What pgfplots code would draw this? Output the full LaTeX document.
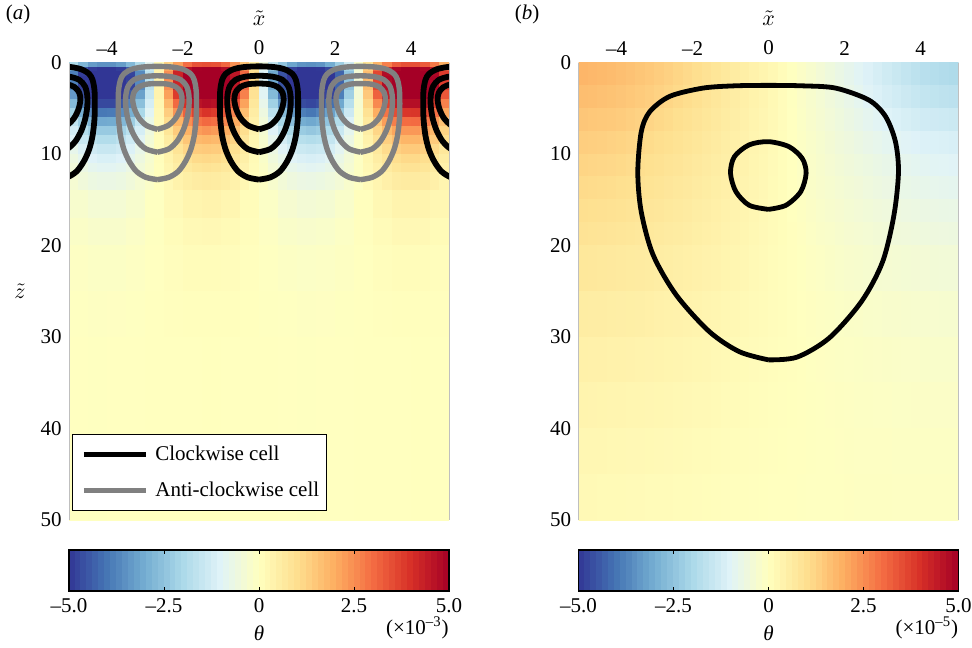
\documentclass[border=0pt]{standalone}
\usepackage{fontspec}
\setmainfont{Liberation Serif}
\usepackage{pgfplots}
\usepackage{pgfplotstable}
\pgfplotsset{compat=1.18}

\definecolor{cgray}{RGB}{128,128,128}

% closed stream-function contours of one cell, x relative to the cell centre
\pgfplotstableread{
x z
0 12.8
0.3 12.55
0.55 11.9
0.74 10.8
0.88 9.5
0.97 8.0
1.02 6.2
1.03 4.5
1.02 3.0
0.97 1.9
0.88 1.25
0.68 0.75
0.4 0.5
0 0.42
-0.4 0.5
-0.68 0.75
-0.88 1.25
-0.97 1.9
-1.02 3.0
-1.03 4.5
-1.02 6.2
-0.97 8.0
-0.88 9.5
-0.74 10.8
-0.55 11.9
-0.3 12.55
0 12.8
}\cellouter
\pgfplotstableread{
x z
0 9.8
0.3 9.45
0.52 8.6
0.68 7.4
0.78 6.1
0.83 4.8
0.83 3.6
0.77 2.6
0.62 1.9
0.36 1.55
0 1.45
-0.36 1.55
-0.62 1.9
-0.77 2.6
-0.83 3.6
-0.83 4.8
-0.78 6.1
-0.68 7.4
-0.52 8.6
-0.3 9.45
0 9.8
}\cellmid
\pgfplotstableread{
x z
0 7.3
0.28 6.9
0.48 6.1
0.6 5.1
0.65 4.1
0.62 3.3
0.5 2.7
0.3 2.38
0 2.3
-0.3 2.38
-0.5 2.7
-0.62 3.3
-0.65 4.1
-0.6 5.1
-0.48 6.1
-0.28 6.9
0 7.3
}\cellin

% panel (b) contours
\pgfplotstableread{
x z
0 32.5
0.75 32.2
1.6 30.1
2.45 26.1
3.0 21.8
3.3 16.7
3.42 12.0
3.34 8.65
3.08 5.9
2.64 4.1
1.77 2.8
0.9 2.55
0 2.5
-0.9 2.55
-1.73 2.8
-2.6 3.7
-3.13 5.4
-3.35 7.6
-3.44 12.0
-3.35 16.3
-3.04 21.0
-2.43 25.4
-1.56 29.4
-0.77 31.6
0 32.5
}\bouter
\pgfplotstableread{
x z
0 16.05
0.46 15.6
0.85 14.1
0.99 12.1
0.89 10.5
0.54 9.2
0 8.65
-0.51 9.0
-0.9 10.3
-1.0 12.1
-0.86 14.1
-0.51 15.6
0 16.05
}\binner

\pgfplotsset{
  colormap={rdylbu}{rgb255=(49,54,149) rgb255=(69,117,180) rgb255=(116,173,209)
    rgb255=(171,217,233) rgb255=(224,243,248) rgb255=(255,255,191) rgb255=(254,224,144)
    rgb255=(253,174,97) rgb255=(244,109,67) rgb255=(215,48,39) rgb255=(165,0,38)},
  field/.style={
    scale only axis, width=190pt, height=228.75pt,
    xmin=-5, xmax=5, ymin=0, ymax=50, y dir=reverse,
    xtick={-4,-2,0,2,4}, xticklabels={–4,–2,0,2,4},
    ytick={0,10,20,30,40,50}, yticklabels={0,10,20,30,40,50},
    xticklabel pos=upper,
    tick style={draw=none},
    separate axis lines,
    x axis line style={draw=none},
    y axis line style={black!25, line width=0.5pt},
    axis on top,
    point meta min=-5, point meta max=5,
    xlabel={$\tilde{x}$},
    xlabel style={at={(axis description cs:0.5,1.097)}, anchor=center},
  },
  patch/.style={surf, shader=faceted, faceted color=mapped color, line width=0.4pt,
    point meta=explicit, forget plot},
  cbar/.style={
    scale only axis, width=190pt, height=20.5pt,
    xmin=-5, xmax=5, ymin=0, ymax=1, ytick=\empty,
    point meta min=-5, point meta max=5,
    xtick={-5,-2.5,0,2.5,5}, xticklabels={–5.0,–2.5,0,2.5,5.0},
    xtick pos=both, xticklabel pos=lower,
    tick align=inside, major tick length=2pt,
    tick style={black, line width=0.5pt},
    axis line style={black, line width=0.7pt},
    axis on top,
    xlabel={\textit{θ}},
    xlabel style={at={(axis description cs:0.5,-1.02)}, anchor=center},
    extra description/.code={
      \node[anchor=east, inner sep=0pt] at (1,-0.9) {(×10\textsuperscript{#1})};},
  },
}

\begin{document}
\fontsize{10.5}{12.6}\selectfont
\begin{tikzpicture}
\useasboundingbox (0,0) rectangle (486pt,323.5pt);

% ---------------- panel (a) ----------------
\begin{axis}[field,
  at={(34.5pt,63.5pt)}, anchor=south west,
  ylabel={$\tilde{z}$},
  ylabel style={at={(axis description cs:-0.129,0.5)}, anchor=center, rotate=-90},
  extra description/.code={\node at (-0.134,1.104) {(\textit{a})};},
  legend style={at={(0.008,0.188)}, anchor=north west, draw=black, line width=0.5pt,
    fill=white, inner xsep=1.5pt, inner ysep=3.75pt, row sep=5pt, column sep=1.5pt,
    nodes={inner sep=2pt}},
  legend cell align=left,
  legend image code/.code={\path (0pt,0pt); \draw[#1] (3pt,0pt) -- (34pt,0pt);},
]
% theta near the surface
\addplot[patch, mesh/cols=41] coordinates {
(-5,0)[-0.8] (-4.75,0)[-1.3] (-4.5,0)[-1.7] (-4.25,0)[-1.9] (-4,0)[-2.0] (-3.75,0)[-1.9] (-3.5,0)[-1.7] (-3.25,0)[-1.3] (-3,0)[-0.7] (-2.75,0)[-0.2] (-2.5,0)[0.4] (-2.25,0)[1.0] (-2,0)[1.4] (-1.75,0)[1.8] (-1.5,0)[2.0] (-1.25,0)[2.0] (-1,0)[1.8] (-0.75,0)[1.5] (-0.5,0)[1.1] (-0.25,0)[0.6] (0,0)[0] (0.25,0)[-0.6] (0.5,0)[-1.1] (0.75,0)[-1.5] (1,0)[-1.8] (1.25,0)[-2.0] (1.5,0)[-2.0] (1.75,0)[-1.8] (2,0)[-1.4] (2.25,0)[-1.0] (2.5,0)[-0.4] (2.75,0)[0.2] (3,0)[0.7] (3.25,0)[1.3] (3.5,0)[1.7] (3.75,0)[1.9] (4,0)[2.0] (4.25,0)[1.9] (4.5,0)[1.7] (4.75,0)[1.3] (5,0)[0.8]

(-5,0.5)[-2.2] (-4.75,0.5)[-3.6] (-4.5,0.5)[-4.6] (-4.25,0.5)[-5] (-4,0.5)[-5] (-3.75,0.5)[-5] (-3.5,0.5)[-4.5] (-3.25,0.5)[-3.4] (-3,0.5)[-2.1] (-2.75,0.5)[-0.5] (-2.5,0.5)[1.1] (-2.25,0.5)[2.6] (-2,0.5)[3.9] (-1.75,0.5)[4.9] (-1.5,0.5)[5] (-1.25,0.5)[5] (-1,0.5)[5] (-0.75,0.5)[4.2] (-0.5,0.5)[3.0] (-0.25,0.5)[1.6] (0,0.5)[0] (0.25,0.5)[-1.6] (0.5,0.5)[-3.0] (0.75,0.5)[-4.2] (1,0.5)[-5] (1.25,0.5)[-5] (1.5,0.5)[-5] (1.75,0.5)[-4.9] (2,0.5)[-3.9] (2.25,0.5)[-2.6] (2.5,0.5)[-1.1] (2.75,0.5)[0.5] (3,0.5)[2.1] (3.25,0.5)[3.4] (3.5,0.5)[4.5] (3.75,0.5)[5] (4,0.5)[5] (4.25,0.5)[5] (4.5,0.5)[4.6] (4.75,0.5)[3.6] (5,0.5)[2.2]

(-5,1)[-2.8] (-4.75,1)[-4.5] (-4.5,1)[-5] (-4.25,1)[-5] (-4,1)[-5] (-3.75,1)[-5] (-3.5,1)[-5] (-3.25,1)[-4.4] (-3,1)[-2.6] (-2.75,1)[-0.6] (-2.5,1)[1.4] (-2.25,1)[3.4] (-2,1)[5] (-1.75,1)[5] (-1.5,1)[5] (-1.25,1)[5] (-1,1)[5] (-0.75,1)[5] (-0.5,1)[3.9] (-0.25,1)[2.0] (0,1)[0] (0.25,1)[-2.0] (0.5,1)[-3.9] (0.75,1)[-5] (1,1)[-5] (1.25,1)[-5] (1.5,1)[-5] (1.75,1)[-5] (2,1)[-5] (2.25,1)[-3.4] (2.5,1)[-1.4] (2.75,1)[0.6] (3,1)[2.6] (3.25,1)[4.4] (3.5,1)[5] (3.75,1)[5] (4,1)[5] (4.25,1)[5] (4.5,1)[5] (4.75,1)[4.5] (5,1)[2.8]

(-5,1.5)[-3.0] (-4.75,1.5)[-4.9] (-4.5,1.5)[-5] (-4.25,1.5)[-5] (-4,1.5)[-5] (-3.75,1.5)[-5] (-3.5,1.5)[-5] (-3.25,1.5)[-4.7] (-3,1.5)[-2.8] (-2.75,1.5)[-0.7] (-2.5,1.5)[1.5] (-2.25,1.5)[3.6] (-2,1.5)[5] (-1.75,1.5)[5] (-1.5,1.5)[5] (-1.25,1.5)[5] (-1,1.5)[5] (-0.75,1.5)[5] (-0.5,1.5)[4.2] (-0.25,1.5)[2.2] (0,1.5)[0] (0.25,1.5)[-2.2] (0.5,1.5)[-4.2] (0.75,1.5)[-5] (1,1.5)[-5] (1.25,1.5)[-5] (1.5,1.5)[-5] (1.75,1.5)[-5] (2,1.5)[-5] (2.25,1.5)[-3.6] (2.5,1.5)[-1.5] (2.75,1.5)[0.7] (3,1.5)[2.8] (3.25,1.5)[4.7] (3.5,1.5)[5] (3.75,1.5)[5] (4,1.5)[5] (4.25,1.5)[5] (4.5,1.5)[5] (4.75,1.5)[4.9] (5,1.5)[3.0]

(-5,2)[-3.0] (-4.75,2)[-4.9] (-4.5,2)[-5] (-4.25,2)[-5] (-4,2)[-5] (-3.75,2)[-5] (-3.5,2)[-5] (-3.25,2)[-4.7] (-3,2)[-2.8] (-2.75,2)[-0.7] (-2.5,2)[1.5] (-2.25,2)[3.6] (-2,2)[5] (-1.75,2)[5] (-1.5,2)[5] (-1.25,2)[5] (-1,2)[5] (-0.75,2)[5] (-0.5,2)[4.2] (-0.25,2)[2.2] (0,2)[0] (0.25,2)[-2.2] (0.5,2)[-4.2] (0.75,2)[-5] (1,2)[-5] (1.25,2)[-5] (1.5,2)[-5] (1.75,2)[-5] (2,2)[-5] (2.25,2)[-3.6] (2.5,2)[-1.5] (2.75,2)[0.7] (3,2)[2.8] (3.25,2)[4.7] (3.5,2)[5] (3.75,2)[5] (4,2)[5] (4.25,2)[5] (4.5,2)[5] (4.75,2)[4.9] (5,2)[3.0]

(-5,3)[-2.8] (-4.75,3)[-4.5] (-4.5,3)[-5] (-4.25,3)[-5] (-4,3)[-5] (-3.75,3)[-5] (-3.5,3)[-5] (-3.25,3)[-4.4] (-3,3)[-2.6] (-2.75,3)[-0.6] (-2.5,3)[1.4] (-2.25,3)[3.4] (-2,3)[5] (-1.75,3)[5] (-1.5,3)[5] (-1.25,3)[5] (-1,3)[5] (-0.75,3)[5] (-0.5,3)[3.9] (-0.25,3)[2.0] (0,3)[0] (0.25,3)[-2.0] (0.5,3)[-3.9] (0.75,3)[-5] (1,3)[-5] (1.25,3)[-5] (1.5,3)[-5] (1.75,3)[-5] (2,3)[-5] (2.25,3)[-3.4] (2.5,3)[-1.4] (2.75,3)[0.6] (3,3)[2.6] (3.25,3)[4.4] (3.5,3)[5] (3.75,3)[5] (4,3)[5] (4.25,3)[5] (4.5,3)[5] (4.75,3)[4.5] (5,3)[2.8]

(-5,4)[-2.3] (-4.75,4)[-3.8] (-4.5,4)[-4.9] (-4.25,4)[-5] (-4,4)[-5] (-3.75,4)[-5] (-3.5,4)[-4.8] (-3.25,4)[-3.6] (-3,4)[-2.2] (-2.75,4)[-0.5] (-2.5,4)[1.2] (-2.25,4)[2.8] (-2,4)[4.1] (-1.75,4)[5] (-1.5,4)[5] (-1.25,4)[5] (-1,4)[5] (-0.75,4)[4.5] (-0.5,4)[3.2] (-0.25,4)[1.7] (0,4)[0] (0.25,4)[-1.7] (0.5,4)[-3.2] (0.75,4)[-4.5] (1,4)[-5] (1.25,4)[-5] (1.5,4)[-5] (1.75,4)[-5] (2,4)[-4.1] (2.25,4)[-2.8] (2.5,4)[-1.2] (2.75,4)[0.5] (3,4)[2.2] (3.25,4)[3.6] (3.5,4)[4.8] (3.75,4)[5] (4,4)[5] (4.25,4)[5] (4.5,4)[4.9] (4.75,4)[3.8] (5,4)[2.3]

(-5,5)[-1.8] (-4.75,5)[-2.9] (-4.5,5)[-3.8] (-4.25,5)[-4.3] (-4,5)[-4.5] (-3.75,5)[-4.3] (-3.5,5)[-3.7] (-3.25,5)[-2.8] (-3,5)[-1.7] (-2.75,5)[-0.4] (-2.5,5)[0.9] (-2.25,5)[2.2] (-2,5)[3.2] (-1.75,5)[4.0] (-1.5,5)[4.4] (-1.25,5)[4.5] (-1,5)[4.1] (-0.75,5)[3.5] (-0.5,5)[2.5] (-0.25,5)[1.3] (0,5)[0] (0.25,5)[-1.3] (0.5,5)[-2.5] (0.75,5)[-3.5] (1,5)[-4.1] (1.25,5)[-4.5] (1.5,5)[-4.4] (1.75,5)[-4.0] (2,5)[-3.2] (2.25,5)[-2.2] (2.5,5)[-0.9] (2.75,5)[0.4] (3,5)[1.7] (3.25,5)[2.8] (3.5,5)[3.7] (3.75,5)[4.3] (4,5)[4.5] (4.25,5)[4.3] (4.5,5)[3.8] (4.75,5)[2.9] (5,5)[1.8]

(-5,6)[-1.4] (-4.75,6)[-2.3] (-4.5,6)[-2.9] (-4.25,6)[-3.4] (-4,6)[-3.5] (-3.75,6)[-3.3] (-3.5,6)[-2.9] (-3.25,6)[-2.2] (-3,6)[-1.3] (-2.75,6)[-0.3] (-2.5,6)[0.7] (-2.25,6)[1.7] (-2,6)[2.5] (-1.75,6)[3.1] (-1.5,6)[3.4] (-1.25,6)[3.5] (-1,6)[3.2] (-0.75,6)[2.7] (-0.5,6)[1.9] (-0.25,6)[1.0] (0,6)[0] (0.25,6)[-1.0] (0.5,6)[-1.9] (0.75,6)[-2.7] (1,6)[-3.2] (1.25,6)[-3.5] (1.5,6)[-3.4] (1.75,6)[-3.1] (2,6)[-2.5] (2.25,6)[-1.7] (2.5,6)[-0.7] (2.75,6)[0.3] (3,6)[1.3] (3.25,6)[2.2] (3.5,6)[2.9] (3.75,6)[3.3] (4,6)[3.5] (4.25,6)[3.4] (4.5,6)[2.9] (4.75,6)[2.3] (5,6)[1.4]

(-5,7)[-1.1] (-4.75,7)[-1.7] (-4.5,7)[-2.3] (-4.25,7)[-2.6] (-4,7)[-2.7] (-3.75,7)[-2.6] (-3.5,7)[-2.2] (-3.25,7)[-1.7] (-3,7)[-1.0] (-2.75,7)[-0.2] (-2.5,7)[0.6] (-2.25,7)[1.3] (-2,7)[1.9] (-1.75,7)[2.4] (-1.5,7)[2.7] (-1.25,7)[2.7] (-1,7)[2.5] (-0.75,7)[2.1] (-0.5,7)[1.5] (-0.25,7)[0.8] (0,7)[0] (0.25,7)[-0.8] (0.5,7)[-1.5] (0.75,7)[-2.1] (1,7)[-2.5] (1.25,7)[-2.7] (1.5,7)[-2.7] (1.75,7)[-2.4] (2,7)[-1.9] (2.25,7)[-1.3] (2.5,7)[-0.6] (2.75,7)[0.2] (3,7)[1.0] (3.25,7)[1.7] (3.5,7)[2.2] (3.75,7)[2.6] (4,7)[2.7] (4.25,7)[2.6] (4.5,7)[2.3] (4.75,7)[1.7] (5,7)[1.1]

(-5,8)[-0.8] (-4.75,8)[-1.4] (-4.5,8)[-1.8] (-4.25,8)[-2.0] (-4,8)[-2.1] (-3.75,8)[-2.0] (-3.5,8)[-1.7] (-3.25,8)[-1.3] (-3,8)[-0.8] (-2.75,8)[-0.2] (-2.5,8)[0.4] (-2.25,8)[1.0] (-2,8)[1.5] (-1.75,8)[1.9] (-1.5,8)[2.1] (-1.25,8)[2.1] (-1,8)[1.9] (-0.75,8)[1.6] (-0.5,8)[1.2] (-0.25,8)[0.6] (0,8)[0] (0.25,8)[-0.6] (0.5,8)[-1.2] (0.75,8)[-1.6] (1,8)[-1.9] (1.25,8)[-2.1] (1.5,8)[-2.1] (1.75,8)[-1.9] (2,8)[-1.5] (2.25,8)[-1.0] (2.5,8)[-0.4] (2.75,8)[0.2] (3,8)[0.8] (3.25,8)[1.3] (3.5,8)[1.7] (3.75,8)[2.0] (4,8)[2.1] (4.25,8)[2.0] (4.5,8)[1.8] (4.75,8)[1.4] (5,8)[0.8]

(-5,9)[-0.7] (-4.75,9)[-1.1] (-4.5,9)[-1.4] (-4.25,9)[-1.6] (-4,9)[-1.7] (-3.75,9)[-1.6] (-3.5,9)[-1.4] (-3.25,9)[-1.0] (-3,9)[-0.6] (-2.75,9)[-0.1] (-2.5,9)[0.3] (-2.25,9)[0.8] (-2,9)[1.2] (-1.75,9)[1.5] (-1.5,9)[1.6] (-1.25,9)[1.6] (-1,9)[1.5] (-0.75,9)[1.3] (-0.5,9)[0.9] (-0.25,9)[0.5] (0,9)[0] (0.25,9)[-0.5] (0.5,9)[-0.9] (0.75,9)[-1.3] (1,9)[-1.5] (1.25,9)[-1.6] (1.5,9)[-1.6] (1.75,9)[-1.5] (2,9)[-1.2] (2.25,9)[-0.8] (2.5,9)[-0.3] (2.75,9)[0.1] (3,9)[0.6] (3.25,9)[1.0] (3.5,9)[1.4] (3.75,9)[1.6] (4,9)[1.7] (4.25,9)[1.6] (4.5,9)[1.4] (4.75,9)[1.1] (5,9)[0.7]

(-5,10)[-0.5] (-4.75,10)[-0.8] (-4.5,10)[-1.1] (-4.25,10)[-1.2] (-4,10)[-1.3] (-3.75,10)[-1.2] (-3.5,10)[-1.1] (-3.25,10)[-0.8] (-3,10)[-0.5] (-2.75,10)[-0.1] (-2.5,10)[0.3] (-2.25,10)[0.6] (-2,10)[0.9] (-1.75,10)[1.2] (-1.5,10)[1.3] (-1.25,10)[1.3] (-1,10)[1.2] (-0.75,10)[1.0] (-0.5,10)[0.7] (-0.25,10)[0.4] (0,10)[0] (0.25,10)[-0.4] (0.5,10)[-0.7] (0.75,10)[-1.0] (1,10)[-1.2] (1.25,10)[-1.3] (1.5,10)[-1.3] (1.75,10)[-1.2] (2,10)[-0.9] (2.25,10)[-0.6] (2.5,10)[-0.3] (2.75,10)[0.1] (3,10)[0.5] (3.25,10)[0.8] (3.5,10)[1.1] (3.75,10)[1.2] (4,10)[1.3] (4.25,10)[1.2] (4.5,10)[1.1] (4.75,10)[0.8] (5,10)[0.5]

(-5,11)[-0.4] (-4.75,11)[-0.6] (-4.5,11)[-0.8] (-4.25,11)[-1.0] (-4,11)[-1.0] (-3.75,11)[-1.0] (-3.5,11)[-0.8] (-3.25,11)[-0.6] (-3,11)[-0.4] (-2.75,11)[-0.1] (-2.5,11)[0.2] (-2.25,11)[0.5] (-2,11)[0.7] (-1.75,11)[0.9] (-1.5,11)[1.0] (-1.25,11)[1.0] (-1,11)[0.9] (-0.75,11)[0.8] (-0.5,11)[0.6] (-0.25,11)[0.3] (0,11)[0] (0.25,11)[-0.3] (0.5,11)[-0.6] (0.75,11)[-0.8] (1,11)[-0.9] (1.25,11)[-1.0] (1.5,11)[-1.0] (1.75,11)[-0.9] (2,11)[-0.7] (2.25,11)[-0.5] (2.5,11)[-0.2] (2.75,11)[0.1] (3,11)[0.4] (3.25,11)[0.6] (3.5,11)[0.8] (3.75,11)[1.0] (4,11)[1.0] (4.25,11)[1.0] (4.5,11)[0.8] (4.75,11)[0.6] (5,11)[0.4]

(-5,12)[-0.3] (-4.75,12)[-0.5] (-4.5,12)[-0.7] (-4.25,12)[-0.8] (-4,12)[-0.8] (-3.75,12)[-0.8] (-3.5,12)[-0.7] (-3.25,12)[-0.5] (-3,12)[-0.3] (-2.75,12)[-0.1] (-2.5,12)[0.2] (-2.25,12)[0.4] (-2,12)[0.6] (-1.75,12)[0.7] (-1.5,12)[0.8] (-1.25,12)[0.8] (-1,12)[0.7] (-0.75,12)[0.6] (-0.5,12)[0.4] (-0.25,12)[0.2] (0,12)[0] (0.25,12)[-0.2] (0.5,12)[-0.4] (0.75,12)[-0.6] (1,12)[-0.7] (1.25,12)[-0.8] (1.5,12)[-0.8] (1.75,12)[-0.7] (2,12)[-0.6] (2.25,12)[-0.4] (2.5,12)[-0.2] (2.75,12)[0.1] (3,12)[0.3] (3.25,12)[0.5] (3.5,12)[0.7] (3.75,12)[0.8] (4,12)[0.8] (4.25,12)[0.8] (4.5,12)[0.7] (4.75,12)[0.5] (5,12)[0.3]

(-5,14)[-0.2] (-4.75,14)[-0.3] (-4.5,14)[-0.4] (-4.25,14)[-0.5] (-4,14)[-0.5] (-3.75,14)[-0.5] (-3.5,14)[-0.4] (-3.25,14)[-0.3] (-3,14)[-0.2] (-2.75,14)[0] (-2.5,14)[0.1] (-2.25,14)[0.2] (-2,14)[0.4] (-1.75,14)[0.4] (-1.5,14)[0.5] (-1.25,14)[0.5] (-1,14)[0.5] (-0.75,14)[0.4] (-0.5,14)[0.3] (-0.25,14)[0.1] (0,14)[0] (0.25,14)[-0.1] (0.5,14)[-0.3] (0.75,14)[-0.4] (1,14)[-0.5] (1.25,14)[-0.5] (1.5,14)[-0.5] (1.75,14)[-0.4] (2,14)[-0.4] (2.25,14)[-0.2] (2.5,14)[-0.1] (2.75,14)[0] (3,14)[0.2] (3.25,14)[0.3] (3.5,14)[0.4] (3.75,14)[0.5] (4,14)[0.5] (4.25,14)[0.5] (4.5,14)[0.4] (4.75,14)[0.3] (5,14)[0.2]
};
% theta at depth
\addplot[patch, mesh/cols=21] coordinates {
(-5,14)[-0.2] (-4.5,14)[-0.42] (-4,14)[-0.5] (-3.5,14)[-0.41] (-3,14)[-0.19] (-2.5,14)[0.1] (-2,14)[0.36] (-1.5,14)[0.49] (-1,14)[0.46] (-0.5,14)[0.28] (0,14)[0] (0.5,14)[-0.28] (1,14)[-0.46] (1.5,14)[-0.49] (2,14)[-0.36] (2.5,14)[-0.1] (3,14)[0.19] (3.5,14)[0.41] (4,14)[0.5] (4.5,14)[0.42] (5,14)[0.2]

(-5,17)[-0.12] (-4.5,17)[-0.25] (-4,17)[-0.3] (-3.5,17)[-0.25] (-3,17)[-0.11] (-2.5,17)[0.06] (-2,17)[0.21] (-1.5,17)[0.29] (-1,17)[0.28] (-0.5,17)[0.17] (0,17)[0] (0.5,17)[-0.17] (1,17)[-0.28] (1.5,17)[-0.29] (2,17)[-0.21] (2.5,17)[-0.06] (3,17)[0.11] (3.5,17)[0.25] (4,17)[0.3] (4.5,17)[0.25] (5,17)[0.12]

(-5,20)[-0.07] (-4.5,20)[-0.14] (-4,20)[-0.17] (-3.5,20)[-0.14] (-3,20)[-0.06] (-2.5,20)[0.03] (-2,20)[0.12] (-1.5,20)[0.17] (-1,20)[0.16] (-0.5,20)[0.09] (0,20)[0] (0.5,20)[-0.09] (1,20)[-0.16] (1.5,20)[-0.17] (2,20)[-0.12] (2.5,20)[-0.03] (3,20)[0.06] (3.5,20)[0.14] (4,20)[0.17] (4.5,20)[0.14] (5,20)[0.07]

(-5,25)[-0.03] (-4.5,25)[-0.06] (-4,25)[-0.07] (-3.5,25)[-0.06] (-3,25)[-0.03] (-2.5,25)[0.01] (-2,25)[0.05] (-1.5,25)[0.07] (-1,25)[0.06] (-0.5,25)[0.04] (0,25)[0] (0.5,25)[-0.04] (1,25)[-0.06] (1.5,25)[-0.07] (2,25)[-0.05] (2.5,25)[-0.01] (3,25)[0.03] (3.5,25)[0.06] (4,25)[0.07] (4.5,25)[0.06] (5,25)[0.03]

(-5,30)[-0.01] (-4.5,30)[-0.03] (-4,30)[-0.03] (-3.5,30)[-0.02] (-3,30)[-0.01] (-2.5,30)[0.01] (-2,30)[0.02] (-1.5,30)[0.03] (-1,30)[0.03] (-0.5,30)[0.02] (0,30)[0] (0.5,30)[-0.02] (1,30)[-0.03] (1.5,30)[-0.03] (2,30)[-0.02] (2.5,30)[-0.01] (3,30)[0.01] (3.5,30)[0.02] (4,30)[0.03] (4.5,30)[0.03] (5,30)[0.01]

(-5,50)[0] (-4.5,50)[0] (-4,50)[0] (-3.5,50)[0] (-3,50)[0] (-2.5,50)[0] (-2,50)[0] (-1.5,50)[0] (-1,50)[0] (-0.5,50)[0] (0,50)[0] (0.5,50)[0] (1,50)[0] (1.5,50)[0] (2,50)[0] (2.5,50)[0] (3,50)[0] (3.5,50)[0] (4,50)[0] (4.5,50)[0] (5,50)[0]
};

% clockwise cells (black)
\addplot[black, line width=2.9pt, smooth, line join=round, forget plot] table[x expr=\thisrow{x}, y=z] {\cellouter};
\addplot[black, line width=2.9pt, smooth, line join=round, forget plot] table[x expr=\thisrow{x}, y=z] {\cellmid};
\addplot[black, line width=2.9pt, smooth, line join=round, forget plot] table[x expr=\thisrow{x}, y=z] {\cellin};
\addplot[black, line width=2.9pt, smooth, line join=round, forget plot] table[x expr=\thisrow{x}-5.35, y=z] {\cellouter};
\addplot[black, line width=2.9pt, smooth, line join=round, forget plot] table[x expr=\thisrow{x}-5.35, y=z] {\cellmid};
\addplot[black, line width=2.9pt, smooth, line join=round, forget plot] table[x expr=\thisrow{x}-5.35, y=z] {\cellin};
\addplot[black, line width=2.9pt, smooth, line join=round, forget plot] table[x expr=\thisrow{x}+5.35, y=z] {\cellouter};
\addplot[black, line width=2.9pt, smooth, line join=round, forget plot] table[x expr=\thisrow{x}+5.35, y=z] {\cellmid};
\addplot[black, line width=2.9pt, smooth, line join=round, forget plot] table[x expr=\thisrow{x}+5.35, y=z] {\cellin};
% anti-clockwise cells (grey)
\addplot[cgray, line width=2.7pt, smooth, line join=round, forget plot] table[x expr=\thisrow{x}-2.675, y=z] {\cellouter};
\addplot[cgray, line width=2.7pt, smooth, line join=round, forget plot] table[x expr=\thisrow{x}-2.675, y=z] {\cellmid};
\addplot[cgray, line width=2.7pt, smooth, line join=round, forget plot] table[x expr=\thisrow{x}-2.675, y=z] {\cellin};
\addplot[cgray, line width=2.7pt, smooth, line join=round, forget plot] table[x expr=\thisrow{x}+2.675, y=z] {\cellouter};
\addplot[cgray, line width=2.7pt, smooth, line join=round, forget plot] table[x expr=\thisrow{x}+2.675, y=z] {\cellmid};
\addplot[cgray, line width=2.7pt, smooth, line join=round, forget plot] table[x expr=\thisrow{x}+2.675, y=z] {\cellin};

\addlegendimage{black, line width=2.4pt}
\addlegendentry{Clockwise cell}
\addlegendimage{cgray, line width=2.4pt}
\addlegendentry{Anti-clockwise cell}
\end{axis}

% ---------------- panel (b) ----------------
\begin{axis}[field,
  at={(289.25pt,63.5pt)}, anchor=south west,
  extra description/.code={\node at (-0.1355,1.104) {(\textit{b})};},
]
\addplot[patch, mesh/cols=41] coordinates {
(-5,0)[1.9] (-4.75,0)[1.87] (-4.5,0)[1.83] (-4.25,0)[1.79] (-4,0)[1.75] (-3.75,0)[1.68] (-3.5,0)[1.6] (-3.25,0)[1.53] (-3,0)[1.45] (-2.75,0)[1.37] (-2.5,0)[1.28] (-2.25,0)[1.19] (-2,0)[1.1] (-1.75,0)[1.0] (-1.5,0)[0.9] (-1.25,0)[0.8] (-1,0)[0.7] (-0.75,0)[0.6] (-0.5,0)[0.5] (-0.25,0)[0.4] (0,0)[0.3] (0.25,0)[0.18] (0.5,0)[0.05] (0.75,0)[-0.08] (1,0)[-0.2] (1.25,0)[-0.34] (1.5,0)[-0.48] (1.75,0)[-0.62] (2,0)[-0.75] (2.25,0)[-0.89] (2.5,0)[-1.03] (2.75,0)[-1.17] (3,0)[-1.3] (3.25,0)[-1.43] (3.5,0)[-1.55] (3.75,0)[-1.68] (4,0)[-1.8] (4.25,0)[-1.87] (4.5,0)[-1.93] (4.75,0)[-1.99] (5,0)[-2.05]

(-5,2.5)[1.8] (-4.75,2.5)[1.77] (-4.5,2.5)[1.73] (-4.25,2.5)[1.69] (-4,2.5)[1.65] (-3.75,2.5)[1.59] (-3.5,2.5)[1.53] (-3.25,2.5)[1.47] (-3,2.5)[1.4] (-2.75,2.5)[1.32] (-2.5,2.5)[1.23] (-2.25,2.5)[1.14] (-2,2.5)[1.05] (-1.75,2.5)[0.95] (-1.5,2.5)[0.85] (-1.25,2.5)[0.75] (-1,2.5)[0.65] (-0.75,2.5)[0.56] (-0.5,2.5)[0.47] (-0.25,2.5)[0.38] (0,2.5)[0.28] (0.25,2.5)[0.16] (0.5,2.5)[0.04] (0.75,2.5)[-0.08] (1,2.5)[-0.2] (1.25,2.5)[-0.33] (1.5,2.5)[-0.45] (1.75,2.5)[-0.58] (2,2.5)[-0.7] (2.25,2.5)[-0.83] (2.5,2.5)[-0.95] (2.75,2.5)[-1.08] (3,2.5)[-1.2] (3.25,2.5)[-1.32] (3.5,2.5)[-1.43] (3.75,2.5)[-1.54] (4,2.5)[-1.65] (4.25,2.5)[-1.7] (4.5,2.5)[-1.75] (4.75,2.5)[-1.8] (5,2.5)[-1.85]

(-5,5)[1.6] (-4.75,5)[1.58] (-4.5,5)[1.55] (-4.25,5)[1.53] (-4,5)[1.5] (-3.75,5)[1.44] (-3.5,5)[1.38] (-3.25,5)[1.32] (-3,5)[1.25] (-2.75,5)[1.18] (-2.5,5)[1.1] (-2.25,5)[1.03] (-2,5)[0.95] (-1.75,5)[0.87] (-1.5,5)[0.78] (-1.25,5)[0.69] (-1,5)[0.6] (-0.75,5)[0.52] (-0.5,5)[0.43] (-0.25,5)[0.34] (0,5)[0.25] (0.25,5)[0.15] (0.5,5)[0.04] (0.75,5)[-0.07] (1,5)[-0.18] (1.25,5)[-0.29] (1.5,5)[-0.4] (1.75,5)[-0.51] (2,5)[-0.62] (2.25,5)[-0.73] (2.5,5)[-0.84] (2.75,5)[-0.95] (3,5)[-1.05] (3.25,5)[-1.14] (3.5,5)[-1.23] (3.75,5)[-1.32] (4,5)[-1.4] (4.25,5)[-1.44] (4.5,5)[-1.48] (4.75,5)[-1.52] (5,5)[-1.55]

(-5,7.5)[1.45] (-4.75,7.5)[1.43] (-4.5,7.5)[1.4] (-4.25,7.5)[1.38] (-4,7.5)[1.35] (-3.75,7.5)[1.3] (-3.5,7.5)[1.24] (-3.25,7.5)[1.18] (-3,7.5)[1.12] (-2.75,7.5)[1.06] (-2.5,7.5)[0.99] (-2.25,7.5)[0.92] (-2,7.5)[0.85] (-1.75,7.5)[0.78] (-1.5,7.5)[0.7] (-1.25,7.5)[0.63] (-1,7.5)[0.55] (-0.75,7.5)[0.47] (-0.5,7.5)[0.39] (-0.25,7.5)[0.31] (0,7.5)[0.22] (0.25,7.5)[0.13] (0.5,7.5)[0.04] (0.75,7.5)[-0.06] (1,7.5)[-0.15] (1.25,7.5)[-0.25] (1.5,7.5)[-0.35] (1.75,7.5)[-0.45] (2,7.5)[-0.55] (2.25,7.5)[-0.64] (2.5,7.5)[-0.73] (2.75,7.5)[-0.82] (3,7.5)[-0.9] (3.25,7.5)[-0.97] (3.5,7.5)[-1.03] (3.75,7.5)[-1.09] (4,7.5)[-1.15] (4.25,7.5)[-1.18] (4.5,7.5)[-1.2] (4.75,7.5)[-1.23] (5,7.5)[-1.25]

(-5,10)[1.3] (-4.75,10)[1.28] (-4.5,10)[1.25] (-4.25,10)[1.23] (-4,10)[1.2] (-3.75,10)[1.15] (-3.5,10)[1.1] (-3.25,10)[1.05] (-3,10)[1.0] (-2.75,10)[0.95] (-2.5,10)[0.89] (-2.25,10)[0.84] (-2,10)[0.78] (-1.75,10)[0.71] (-1.5,10)[0.64] (-1.25,10)[0.57] (-1,10)[0.5] (-0.75,10)[0.43] (-0.5,10)[0.35] (-0.25,10)[0.28] (0,10)[0.2] (0.25,10)[0.12] (0.5,10)[0.04] (0.75,10)[-0.05] (1,10)[-0.13] (1.25,10)[-0.22] (1.5,10)[-0.3] (1.75,10)[-0.39] (2,10)[-0.47] (2.25,10)[-0.54] (2.5,10)[-0.61] (2.75,10)[-0.68] (3,10)[-0.75] (3.25,10)[-0.8] (3.5,10)[-0.85] (3.75,10)[-0.9] (4,10)[-0.95] (4.25,10)[-0.98] (4.5,10)[-1.0] (4.75,10)[-1.03] (5,10)[-1.05]

(-5,12.5)[1.18] (-4.75,12.5)[1.16] (-4.5,12.5)[1.13] (-4.25,12.5)[1.11] (-4,12.5)[1.09] (-3.75,12.5)[1.05] (-3.5,12.5)[1.0] (-3.25,12.5)[0.96] (-3,12.5)[0.91] (-2.75,12.5)[0.87] (-2.5,12.5)[0.81] (-2.25,12.5)[0.77] (-2,12.5)[0.71] (-1.75,12.5)[0.65] (-1.5,12.5)[0.59] (-1.25,12.5)[0.53] (-1,12.5)[0.46] (-0.75,12.5)[0.4] (-0.5,12.5)[0.33] (-0.25,12.5)[0.26] (0,12.5)[0.19] (0.25,12.5)[0.12] (0.5,12.5)[0.04] (0.75,12.5)[-0.04] (1,12.5)[-0.12] (1.25,12.5)[-0.2] (1.5,12.5)[-0.27] (1.75,12.5)[-0.34] (2,12.5)[-0.41] (2.25,12.5)[-0.47] (2.5,12.5)[-0.53] (2.75,12.5)[-0.59] (3,12.5)[-0.65] (3.25,12.5)[-0.7] (3.5,12.5)[-0.74] (3.75,12.5)[-0.78] (4,12.5)[-0.82] (4.25,12.5)[-0.84] (4.5,12.5)[-0.86] (4.75,12.5)[-0.89] (5,12.5)[-0.9]

(-5,15)[1.05] (-4.75,15)[1.03] (-4.5,15)[1.01] (-4.25,15)[0.99] (-4,15)[0.97] (-3.75,15)[0.94] (-3.5,15)[0.9] (-3.25,15)[0.86] (-3,15)[0.82] (-2.75,15)[0.78] (-2.5,15)[0.73] (-2.25,15)[0.69] (-2,15)[0.64] (-1.75,15)[0.59] (-1.5,15)[0.53] (-1.25,15)[0.48] (-1,15)[0.42] (-0.75,15)[0.36] (-0.5,15)[0.3] (-0.25,15)[0.24] (0,15)[0.17] (0.25,15)[0.11] (0.5,15)[0.04] (0.75,15)[-0.03] (1,15)[-0.1] (1.25,15)[-0.17] (1.5,15)[-0.23] (1.75,15)[-0.29] (2,15)[-0.35] (2.25,15)[-0.4] (2.5,15)[-0.45] (2.75,15)[-0.5] (3,15)[-0.55] (3.25,15)[-0.59] (3.5,15)[-0.62] (3.75,15)[-0.65] (4,15)[-0.68] (4.25,15)[-0.7] (4.5,15)[-0.72] (4.75,15)[-0.74] (5,15)[-0.75]

(-5,17.5)[0.95] (-4.75,17.5)[0.94] (-4.5,17.5)[0.92] (-4.25,17.5)[0.9] (-4,17.5)[0.88] (-3.75,17.5)[0.85] (-3.5,17.5)[0.81] (-3.25,17.5)[0.78] (-3,17.5)[0.74] (-2.75,17.5)[0.71] (-2.5,17.5)[0.66] (-2.25,17.5)[0.63] (-2,17.5)[0.58] (-1.75,17.5)[0.54] (-1.5,17.5)[0.49] (-1.25,17.5)[0.44] (-1,17.5)[0.39] (-0.75,17.5)[0.33] (-0.5,17.5)[0.28] (-0.25,17.5)[0.22] (0,17.5)[0.16] (0.25,17.5)[0.11] (0.5,17.5)[0.05] (0.75,17.5)[-0.02] (1,17.5)[-0.08] (1.25,17.5)[-0.14] (1.5,17.5)[-0.19] (1.75,17.5)[-0.25] (2,17.5)[-0.3] (2.25,17.5)[-0.34] (2.5,17.5)[-0.38] (2.75,17.5)[-0.43] (3,17.5)[-0.47] (3.25,17.5)[-0.5] (3.5,17.5)[-0.53] (3.75,17.5)[-0.55] (4,17.5)[-0.58] (4.25,17.5)[-0.59] (4.5,17.5)[-0.61] (4.75,17.5)[-0.62] (5,17.5)[-0.63]

(-5,20)[0.85] (-4.75,20)[0.84] (-4.5,20)[0.82] (-4.25,20)[0.8] (-4,20)[0.78] (-3.75,20)[0.75] (-3.5,20)[0.72] (-3.25,20)[0.69] (-3,20)[0.66] (-2.75,20)[0.63] (-2.5,20)[0.59] (-2.25,20)[0.56] (-2,20)[0.52] (-1.75,20)[0.48] (-1.5,20)[0.44] (-1.25,20)[0.4] (-1,20)[0.35] (-0.75,20)[0.3] (-0.5,20)[0.25] (-0.25,20)[0.2] (0,20)[0.15] (0.25,20)[0.1] (0.5,20)[0.05] (0.75,20)[0] (1,20)[-0.06] (1.25,20)[-0.11] (1.5,20)[-0.15] (1.75,20)[-0.2] (2,20)[-0.24] (2.25,20)[-0.28] (2.5,20)[-0.31] (2.75,20)[-0.35] (3,20)[-0.38] (3.25,20)[-0.41] (3.5,20)[-0.43] (3.75,20)[-0.45] (4,20)[-0.47] (4.25,20)[-0.48] (4.5,20)[-0.49] (4.75,20)[-0.5] (5,20)[-0.5]

(-5,25)[0.68] (-4.75,25)[0.67] (-4.5,25)[0.65] (-4.25,25)[0.64] (-4,25)[0.62] (-3.75,25)[0.6] (-3.5,25)[0.58] (-3.25,25)[0.56] (-3,25)[0.53] (-2.75,25)[0.51] (-2.5,25)[0.48] (-2.25,25)[0.45] (-2,25)[0.42] (-1.75,25)[0.39] (-1.5,25)[0.35] (-1.25,25)[0.32] (-1,25)[0.28] (-0.75,25)[0.24] (-0.5,25)[0.2] (-0.25,25)[0.16] (0,25)[0.12] (0.25,25)[0.09] (0.5,25)[0.05] (0.75,25)[0.01] (1,25)[-0.03] (1.25,25)[-0.07] (1.5,25)[-0.1] (1.75,25)[-0.13] (2,25)[-0.16] (2.25,25)[-0.19] (2.5,25)[-0.21] (2.75,25)[-0.24] (3,25)[-0.26] (3.25,25)[-0.28] (3.5,25)[-0.29] (3.75,25)[-0.31] (4,25)[-0.32] (4.25,25)[-0.33] (4.5,25)[-0.33] (4.75,25)[-0.34] (5,25)[-0.34]

(-5,30)[0.52] (-4.75,30)[0.51] (-4.5,30)[0.5] (-4.25,30)[0.49] (-4,30)[0.48] (-3.75,30)[0.47] (-3.5,30)[0.45] (-3.25,30)[0.43] (-3,30)[0.41] (-2.75,30)[0.39] (-2.5,30)[0.37] (-2.25,30)[0.35] (-2,30)[0.32] (-1.75,30)[0.3] (-1.5,30)[0.27] (-1.25,30)[0.24] (-1,30)[0.21] (-0.75,30)[0.18] (-0.5,30)[0.15] (-0.25,30)[0.12] (0,30)[0.09] (0.25,30)[0.07] (0.5,30)[0.04] (0.75,30)[0.01] (1,30)[-0.02] (1.25,30)[-0.04] (1.5,30)[-0.06] (1.75,30)[-0.08] (2,30)[-0.1] (2.25,30)[-0.12] (2.5,30)[-0.13] (2.75,30)[-0.15] (3,30)[-0.16] (3.25,30)[-0.17] (3.5,30)[-0.18] (3.75,30)[-0.19] (4,30)[-0.2] (4.25,30)[-0.21] (4.5,30)[-0.21] (4.75,30)[-0.22] (5,30)[-0.22]

(-5,35)[0.41] (-4.75,35)[0.41] (-4.5,35)[0.4] (-4.25,35)[0.39] (-4,35)[0.38] (-3.75,35)[0.37] (-3.5,35)[0.35] (-3.25,35)[0.34] (-3,35)[0.32] (-2.75,35)[0.31] (-2.5,35)[0.29] (-2.25,35)[0.27] (-2,35)[0.25] (-1.75,35)[0.23] (-1.5,35)[0.21] (-1.25,35)[0.18] (-1,35)[0.16] (-0.75,35)[0.14] (-0.5,35)[0.11] (-0.25,35)[0.09] (0,35)[0.07] (0.25,35)[0.05] (0.5,35)[0.03] (0.75,35)[0.01] (1,35)[-0.02] (1.25,35)[-0.03] (1.5,35)[-0.05] (1.75,35)[-0.06] (2,35)[-0.08] (2.25,35)[-0.09] (2.5,35)[-0.1] (2.75,35)[-0.12] (3,35)[-0.12] (3.25,35)[-0.13] (3.5,35)[-0.14] (3.75,35)[-0.15] (4,35)[-0.15] (4.25,35)[-0.16] (4.5,35)[-0.16] (4.75,35)[-0.16] (5,35)[-0.16]

(-5,40)[0.3] (-4.75,40)[0.3] (-4.5,40)[0.29] (-4.25,40)[0.28] (-4,40)[0.27] (-3.75,40)[0.26] (-3.5,40)[0.25] (-3.25,40)[0.24] (-3,40)[0.23] (-2.75,40)[0.22] (-2.5,40)[0.2] (-2.25,40)[0.19] (-2,40)[0.17] (-1.75,40)[0.16] (-1.5,40)[0.14] (-1.25,40)[0.12] (-1,40)[0.1] (-0.75,40)[0.09] (-0.5,40)[0.07] (-0.25,40)[0.06] (0,40)[0.04] (0.25,40)[0.03] (0.5,40)[0.02] (0.75,40)[0.01] (1,40)[-0.01] (1.25,40)[-0.02] (1.5,40)[-0.03] (1.75,40)[-0.04] (2,40)[-0.05] (2.25,40)[-0.06] (2.5,40)[-0.07] (2.75,40)[-0.08] (3,40)[-0.08] (3.25,40)[-0.09] (3.5,40)[-0.09] (3.75,40)[-0.1] (4,40)[-0.1] (4.25,40)[-0.1] (4.5,40)[-0.1] (4.75,40)[-0.1] (5,40)[-0.1]

(-5,45)[0.23] (-4.75,45)[0.23] (-4.5,45)[0.22] (-4.25,45)[0.21] (-4,45)[0.2] (-3.75,45)[0.2] (-3.5,45)[0.19] (-3.25,45)[0.18] (-3,45)[0.17] (-2.75,45)[0.16] (-2.5,45)[0.15] (-2.25,45)[0.14] (-2,45)[0.12] (-1.75,45)[0.11] (-1.5,45)[0.1] (-1.25,45)[0.08] (-1,45)[0.07] (-0.75,45)[0.06] (-0.5,45)[0.05] (-0.25,45)[0.04] (0,45)[0.02] (0.25,45)[0.01] (0.5,45)[0.01] (0.75,45)[0] (1,45)[-0.02] (1.25,45)[-0.03] (1.5,45)[-0.03] (1.75,45)[-0.04] (2,45)[-0.04] (2.25,45)[-0.05] (2.5,45)[-0.06] (2.75,45)[-0.06] (3,45)[-0.06] (3.25,45)[-0.07] (3.5,45)[-0.07] (3.75,45)[-0.08] (4,45)[-0.08] (4.25,45)[-0.08] (4.5,45)[-0.08] (4.75,45)[-0.08] (5,45)[-0.08]

(-5,50)[0.15] (-4.75,50)[0.15] (-4.5,50)[0.14] (-4.25,50)[0.14] (-4,50)[0.13] (-3.75,50)[0.13] (-3.5,50)[0.12] (-3.25,50)[0.11] (-3,50)[0.1] (-2.75,50)[0.1] (-2.5,50)[0.09] (-2.25,50)[0.08] (-2,50)[0.07] (-1.75,50)[0.06] (-1.5,50)[0.05] (-1.25,50)[0.04] (-1,50)[0.03] (-0.75,50)[0.03] (-0.5,50)[0.02] (-0.25,50)[0.01] (0,50)[0] (0.25,50)[-0.01] (0.5,50)[-0.01] (0.75,50)[-0.02] (1,50)[-0.02] (1.25,50)[-0.03] (1.5,50)[-0.03] (1.75,50)[-0.03] (2,50)[-0.03] (2.25,50)[-0.04] (2.5,50)[-0.04] (2.75,50)[-0.04] (3,50)[-0.04] (3.25,50)[-0.05] (3.5,50)[-0.05] (3.75,50)[-0.05] (4,50)[-0.05] (4.25,50)[-0.05] (4.5,50)[-0.05] (4.75,50)[-0.05] (5,50)[-0.05]
};
\addplot[black, line width=2.4pt, smooth, line join=round] table[x=x, y=z] {\bouter};
\addplot[black, line width=2.4pt, smooth, line join=round] table[x=x, y=z] {\binner};
\end{axis}

% ---------------- colour bars ----------------
\begin{axis}[cbar=–3, at={(34.5pt,28pt)}, anchor=south west]
\addplot[surf, shader=faceted, faceted color=mapped color, line width=0.4pt, point meta=x, mesh/cols=65] coordinates {
(-5,0) (-4.84375,0) (-4.6875,0) (-4.53125,0) (-4.375,0) (-4.21875,0) (-4.0625,0) (-3.90625,0) (-3.75,0) (-3.59375,0) (-3.4375,0) (-3.28125,0) (-3.125,0) (-2.96875,0) (-2.8125,0) (-2.65625,0) (-2.5,0) (-2.34375,0) (-2.1875,0) (-2.03125,0) (-1.875,0) (-1.71875,0) (-1.5625,0) (-1.40625,0) (-1.25,0) (-1.09375,0) (-0.9375,0) (-0.78125,0) (-0.625,0) (-0.46875,0) (-0.3125,0) (-0.15625,0) (0,0) (0.15625,0) (0.3125,0) (0.46875,0) (0.625,0) (0.78125,0) (0.9375,0) (1.09375,0) (1.25,0) (1.40625,0) (1.5625,0) (1.71875,0) (1.875,0) (2.03125,0) (2.1875,0) (2.34375,0) (2.5,0) (2.65625,0) (2.8125,0) (2.96875,0) (3.125,0) (3.28125,0) (3.4375,0) (3.59375,0) (3.75,0) (3.90625,0) (4.0625,0) (4.21875,0) (4.375,0) (4.53125,0) (4.6875,0) (4.84375,0) (5,0)

(-5,1) (-4.84375,1) (-4.6875,1) (-4.53125,1) (-4.375,1) (-4.21875,1) (-4.0625,1) (-3.90625,1) (-3.75,1) (-3.59375,1) (-3.4375,1) (-3.28125,1) (-3.125,1) (-2.96875,1) (-2.8125,1) (-2.65625,1) (-2.5,1) (-2.34375,1) (-2.1875,1) (-2.03125,1) (-1.875,1) (-1.71875,1) (-1.5625,1) (-1.40625,1) (-1.25,1) (-1.09375,1) (-0.9375,1) (-0.78125,1) (-0.625,1) (-0.46875,1) (-0.3125,1) (-0.15625,1) (0,1) (0.15625,1) (0.3125,1) (0.46875,1) (0.625,1) (0.78125,1) (0.9375,1) (1.09375,1) (1.25,1) (1.40625,1) (1.5625,1) (1.71875,1) (1.875,1) (2.03125,1) (2.1875,1) (2.34375,1) (2.5,1) (2.65625,1) (2.8125,1) (2.96875,1) (3.125,1) (3.28125,1) (3.4375,1) (3.59375,1) (3.75,1) (3.90625,1) (4.0625,1) (4.21875,1) (4.375,1) (4.53125,1) (4.6875,1) (4.84375,1) (5,1)
};
\end{axis}
\begin{axis}[cbar=–5, at={(289.25pt,28pt)}, anchor=south west]
\addplot[surf, shader=faceted, faceted color=mapped color, line width=0.4pt, point meta=x, mesh/cols=65] coordinates {
(-5,0) (-4.84375,0) (-4.6875,0) (-4.53125,0) (-4.375,0) (-4.21875,0) (-4.0625,0) (-3.90625,0) (-3.75,0) (-3.59375,0) (-3.4375,0) (-3.28125,0) (-3.125,0) (-2.96875,0) (-2.8125,0) (-2.65625,0) (-2.5,0) (-2.34375,0) (-2.1875,0) (-2.03125,0) (-1.875,0) (-1.71875,0) (-1.5625,0) (-1.40625,0) (-1.25,0) (-1.09375,0) (-0.9375,0) (-0.78125,0) (-0.625,0) (-0.46875,0) (-0.3125,0) (-0.15625,0) (0,0) (0.15625,0) (0.3125,0) (0.46875,0) (0.625,0) (0.78125,0) (0.9375,0) (1.09375,0) (1.25,0) (1.40625,0) (1.5625,0) (1.71875,0) (1.875,0) (2.03125,0) (2.1875,0) (2.34375,0) (2.5,0) (2.65625,0) (2.8125,0) (2.96875,0) (3.125,0) (3.28125,0) (3.4375,0) (3.59375,0) (3.75,0) (3.90625,0) (4.0625,0) (4.21875,0) (4.375,0) (4.53125,0) (4.6875,0) (4.84375,0) (5,0)

(-5,1) (-4.84375,1) (-4.6875,1) (-4.53125,1) (-4.375,1) (-4.21875,1) (-4.0625,1) (-3.90625,1) (-3.75,1) (-3.59375,1) (-3.4375,1) (-3.28125,1) (-3.125,1) (-2.96875,1) (-2.8125,1) (-2.65625,1) (-2.5,1) (-2.34375,1) (-2.1875,1) (-2.03125,1) (-1.875,1) (-1.71875,1) (-1.5625,1) (-1.40625,1) (-1.25,1) (-1.09375,1) (-0.9375,1) (-0.78125,1) (-0.625,1) (-0.46875,1) (-0.3125,1) (-0.15625,1) (0,1) (0.15625,1) (0.3125,1) (0.46875,1) (0.625,1) (0.78125,1) (0.9375,1) (1.09375,1) (1.25,1) (1.40625,1) (1.5625,1) (1.71875,1) (1.875,1) (2.03125,1) (2.1875,1) (2.34375,1) (2.5,1) (2.65625,1) (2.8125,1) (2.96875,1) (3.125,1) (3.28125,1) (3.4375,1) (3.59375,1) (3.75,1) (3.90625,1) (4.0625,1) (4.21875,1) (4.375,1) (4.53125,1) (4.6875,1) (4.84375,1) (5,1)
};
\end{axis}
\end{tikzpicture}
\end{document}
